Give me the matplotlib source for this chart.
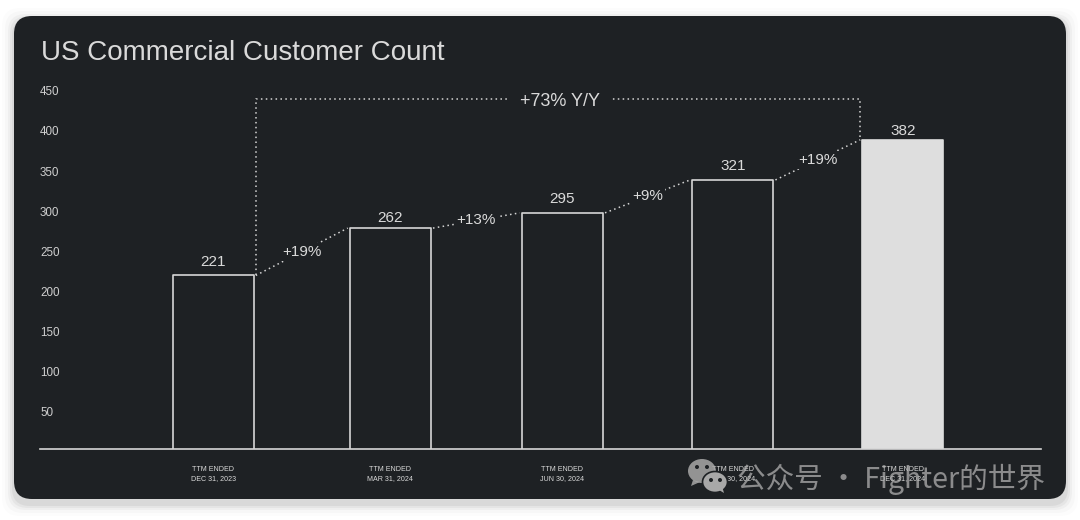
import matplotlib
matplotlib.use("Agg")
import matplotlib.pyplot as plt
from matplotlib.patches import FancyBboxPatch, Ellipse, Polygon

periods = ["TTM ENDED\nDEC 31, 2023", "TTM ENDED\nMAR 31, 2024", "TTM ENDED\nJUN 30, 2024",
           "TTM ENDED\nSEP 30, 2024", "TTM ENDED\nDEC 31, 2024"]
# bar heights as drawn against the axis (they differ from the printed labels)
bar_heights = [220, 279, 298, 339, 389]
bar_labels = ["221", "262", "295", "321", "382"]
growth_labels = ["+19%", "+13%", "+9%", "+19%"]
total_label = "+73% Y/Y"
bracket_top = 440
y_ticks = [50, 100, 150, 200, 250, 300, 350, 400, 450]

x_pos = [0, 1.0275, 2.025, 3.013, 3.999]
label_gap = [4.7, 2, 5, 4.7, 1.4]

PANEL = "#1e2124"
LINE = "#d6d6d6"
TEXT = "#dadada"
FONT = ["Liberation Sans", "DejaVu Sans"]

plt.rcParams["font.family"] = FONT

fig = plt.figure(figsize=(10.8, 5.2), dpi=100, facecolor="white")

# panel and shadow, in pixel coordinates
bg = fig.add_axes([0, 0, 1, 1], zorder=0)
bg.set_xlim(0, 1080)
bg.set_ylim(520, 0)
bg.axis("off")
for grow, a in [(12, 0.012), (9, 0.02), (6, 0.03), (4, 0.04), (2, 0.05)]:
    bg.add_patch(FancyBboxPatch((14 - grow, 20 - grow), 1052 + 2 * grow, 484 + 2 * grow,
                                boxstyle="round,pad=0,rounding_size=18", fc="black", ec="none", alpha=a))
bg.add_patch(FancyBboxPatch((14, 16), 1052, 483, boxstyle="round,pad=0,rounding_size=18",
                            fc=PANEL, ec="none"))
bg.text(41, 53.5, "US Commercial Customer Count", color=TEXT, fontsize=20, va="center", ha="left")

ax = fig.add_axes([40 / 1080, (520 - 448.5) / 520, 1001 / 1080, 368.5 / 520], zorder=1)
ax.patch.set_alpha(0)

bars = ax.bar(x_pos, bar_heights, width=0.47, facecolor="none", edgecolor=LINE, linewidth=1.2)
for b in bars:
    b.set_joinstyle("round")
bars[-1].set_facecolor("#dedede")
bars[-1].set_edgecolor("#dedede")

ax.set_xlim(-1.004, 4.8)
ax.set_ylim(4.4, 463.5)
ax.set_xticks(x_pos, periods)
ax.set_yticks(y_ticks)
ax.tick_params(axis="x", length=0, pad=12.6, labelsize=5.1, labelcolor=TEXT)
ax.tick_params(axis="y", length=0, pad=0, labelsize=8.4, labelcolor="#cfcfcf")
for t in ax.get_yticklabels():
    t.set_ha("left")
    t.set_x(0)
    t.set_transform(ax.get_yaxis_transform())
for t in ax.get_xticklabels():
    t.set_linespacing(1.35)
for s in ["top", "left", "right"]:
    ax.spines[s].set_visible(False)
ax.spines["bottom"].set_color(LINE)
ax.spines["bottom"].set_linewidth(1.2)

for x, h, lab, gap in zip(x_pos, bar_heights, bar_labels, label_gap):
    ax.annotate(lab, (x, h), xytext=(0, gap), textcoords="offset points", ha="center", va="bottom",
                color=TEXT, fontsize=11)

dots = (0, (1, 2.2))
half = 0.47 / 2 + 0.012
for i, lab in enumerate(growth_labels):
    x0, x1 = x_pos[i] + half, x_pos[i + 1] - half
    y0, y1 = bar_heights[i], bar_heights[i + 1]
    ax.plot([x0, x1], [y0, y1], color=LINE, lw=1.1, ls=dots, zorder=2)
    ax.text((x0 + x1) / 2, (y0 + y1) / 2, lab, color=TEXT, fontsize=11, ha="center", va="center", zorder=3,
            bbox=dict(fc=PANEL, ec="none", pad=1.5))

x_left, x_right = x_pos[0] + half, x_pos[-1] - half
ax.plot([x_left, x_left, x_right, x_right], [bar_heights[0], bracket_top, bracket_top, bar_heights[-1]],
        color=LINE, lw=1.1, ls=dots, zorder=2)
ax.text(x_pos[2] - 0.015, bracket_top - 3, total_label, color=TEXT, fontsize=13, ha="center", va="center", zorder=3,
        bbox=dict(fc=PANEL, ec="none", pad=7.5))

# watermark
wm = "#a8a8a8"
bg2 = fig.add_axes([0, 0, 1, 1], zorder=2)
bg2.set_xlim(0, 1080)
bg2.set_ylim(520, 0)
bg2.axis("off")
bg2.add_patch(Ellipse((702, 471), 28, 24, fc=wm, ec="none", alpha=0.85))
bg2.add_patch(Polygon([[693, 480], [691, 486], [700, 482]], fc=wm, ec="none", alpha=0.85))
bg2.add_patch(Ellipse((715, 482), 25, 21, fc=wm, ec=PANEL, lw=1.2))
bg2.add_patch(Polygon([[719, 490], [724, 493], [722, 486]], fc=wm, ec="none"))
for cx, cy, c in [(697, 467, PANEL), (707, 467, PANEL), (711, 480, PANEL), (720, 480, PANEL)]:
    bg2.add_patch(Ellipse((cx, cy), 4, 4, fc=c, ec="none"))
bg2.text(737, 479, "公众号 · Fighter的世界", color="#b0b0b0", alpha=0.75, fontsize=20.6, ha="left", va="center",
         family=["Noto Sans CJK SC", "DejaVu Sans"])

fig.savefig("out.png", dpi=100, facecolor="white")
